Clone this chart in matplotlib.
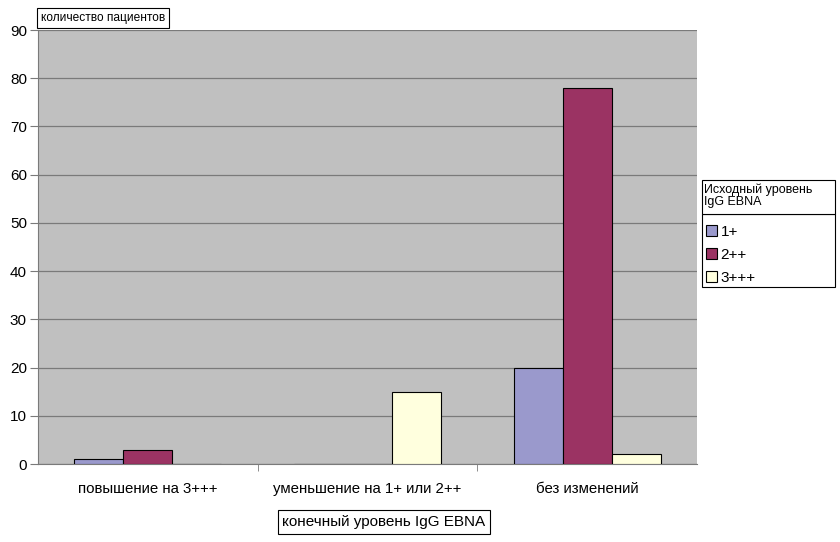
import numpy as np
import matplotlib.pyplot as plt
from matplotlib.patches import Rectangle

plt.rcParams['font.family'] = ['Liberation Sans', 'DejaVu Sans']

# данные
categories = ['повышение на 3+++', 'уменьшение на 1+ или 2++', 'без изменений']
series_names = ['1+', '2++', '3+++']
s1 = [1, 0, 20]
s2 = [3, 0, 78]
s3 = [0, 15, 2]
colors = ['#9a99cc', '#9b3363', '#ffffde']

fig = plt.figure(figsize=(8.4, 5.42), dpi=100)
W, H = 840, 542
ax = fig.add_axes([38 / W, (H - 464) / H, 659 / W, (464 - 30) / H])
ax.set_facecolor('#c0c0c0')

x = np.arange(len(categories))
bw = 0.223
handles = []
for i, (vals, col, name) in enumerate(zip([s1, s2, s3], colors, series_names)):
    b = ax.bar(x + (i - 1) * bw, vals, width=bw, color=col,
               edgecolor='black', linewidth=0.8, label=name, zorder=3)
    handles.append(b)

ax.set_xlim(-0.5, 2.5)
ax.set_ylim(0, 90)
ax.set_yticks(range(0, 91, 10))
ax.yaxis.grid(True, color='#7a7a7a', linewidth=0.9, zorder=0)
ax.set_axisbelow(True)
ax.tick_params(axis='y', labelsize=11, length=6, color='#7a7a7a', pad=2)

ax.set_xticks(x)
ax.set_xticklabels(categories, fontsize=10.8)
ax.tick_params(axis='x', length=0, pad=13)
ax.set_xticks([0.5, 1.5], minor=True)
ax.tick_params(axis='x', which='minor', length=5, color='#7a7a7a')

for side in ['top', 'right']:
    ax.spines[side].set_visible(False)
ax.spines['left'].set_color('#7a7a7a')
ax.spines['bottom'].set_color('#7a7a7a')

# подпись оси Y в рамке
fig.text(41 / W, 1 - 18 / H, 'количество пациентов', fontsize=8.6, va='center', ha='left',
         bbox=dict(boxstyle='square,pad=0.3', fc='white', ec='black', lw=0.8))

# подпись оси X в рамке
fig.text(384 / W, 1 - 522 / H, 'конечный уровень IgG EBNA', fontsize=11, va='center', ha='center',
         bbox=dict(boxstyle='square,pad=0.3', fc='white', ec='black', lw=0.8))

# легенда: рамки рисуются отдельно
fig.patches.append(Rectangle((702 / W, 1 - 287 / H), 133 / W, 73 / H,
                             transform=fig.transFigure, fc='white', ec='black', lw=0.8))
fig.patches.append(Rectangle((702 / W, 1 - 214 / H), 133 / W, 34 / H,
                             transform=fig.transFigure, fc='white', ec='black', lw=0.8))
fig.text(704 / W, 1 - 196 / H, 'Исходный уровень\nIgG EBNA', fontsize=9,
         va='center', ha='left', linespacing=1.05)

leg = fig.legend(handles=handles, labels=series_names,
                 bbox_to_anchor=(706 / W, 1 - 225 / H),
                 loc='upper left', borderaxespad=0, borderpad=0, fontsize=11,
                 handlelength=0.75, handleheight=0.75, handletextpad=0.2,
                 labelspacing=0.58, frameon=False)

fig.savefig('out.png', dpi=100)
